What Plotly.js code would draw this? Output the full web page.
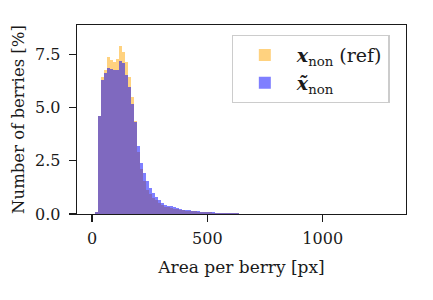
<!DOCTYPE html>
<html>
<head>
<meta charset="utf-8">
<script src="https://cdn.plot.ly/plotly-3.0.1.min.js"></script>
<style>html,body{margin:0;padding:0;background:#fff;}#chart{width:433px;height:300px;}</style>
</head>
<body>
<div id="chart"></div>
<script>
// Left edges of histogram bins (px), bin width 13
const binLeft = [13, 26, 39, 52, 65, 78, 91, 104, 117, 130, 143, 156, 169, 182, 195, 208, 221, 234, 247, 260,
  273, 286, 299, 312, 325, 338, 351, 364, 377, 390, 403, 416, 429, 442, 455, 468, 481, 494, 507, 520,
  533, 546, 559, 572, 585, 598, 611, 624, 637, 650, 663, 676, 689, 702, 715, 728, 741, 754, 767, 780,
  793, 806, 819, 832, 845, 858, 871, 884];
const binWidth = 13;
// Percent of berries, reference (x_non)
const refPct = [0.08, 4.58, 6.41, 6.77, 7.35, 7.24, 7.15, 7.29, 7.87, 7.62, 7.12, 6.41, 5.47, 4.38, 2.92, 2.13, 1.55, 1.12, 0.92, 0.76,
  0.64, 0.52, 0.42, 0.35, 0.31, 0.29, 0.25, 0.24, 0.20, 0.17, 0.16, 0.15, 0.13, 0.12, 0.11, 0.10, 0.09, 0.08, 0.08, 0.07,
  0.07, 0.06, 0.06, 0.05, 0.05, 0.05, 0.03, 0.03, 0.02, 0.02, 0.02, 0.02, 0.01, 0.01, 0.01, 0.01, 0.01, 0.01, 0.01, 0.01,
  0.01, 0.01, 0.01, 0.01, 0.02, 0.02, 0.01, 0.01];
// Percent of berries, generated (x~_non)
const genPct = [0.08, 4.58, 6.30, 6.63, 6.87, 6.80, 6.77, 6.74, 7.20, 7.09, 6.51, 5.94, 5.18, 4.33, 3.20, 2.41, 1.92, 1.53, 1.23, 0.99,
  0.80, 0.64, 0.52, 0.44, 0.39, 0.38, 0.31, 0.29, 0.23, 0.20, 0.19, 0.18, 0.15, 0.14, 0.12, 0.11, 0.11, 0.10, 0.09, 0.08,
  0.07, 0.07, 0.07, 0.06, 0.06, 0.06, 0.03, 0.03, 0.02, 0.02, 0.02, 0.02, 0.01, 0.01, 0.01, 0.01, 0.01, 0.01, 0.01, 0.01,
  0.01, 0.01, 0.01, 0.01, 0.02, 0.02, 0.01, 0.01];
const seriesNames = ['<b><i>x</i></b><sub>non</sub> (ref)', '<b><i>x̃</i></b><sub>non</sub>'];
const xTicks = [0, 500, 1000];
const yTicks = [0, 2.5, 5, 7.5];

const FONT = 'DejaVu Serif, Liberation Serif, serif';
const traces = [
  {type: 'bar', x: binLeft, y: refPct, width: binWidth, offset: 0, name: seriesNames[0],
   marker: {color: 'rgba(255,165,0,0.5)', line: {width: 0}}},
  {type: 'bar', x: binLeft, y: genPct, width: binWidth, offset: 0, name: seriesNames[1],
   marker: {color: 'rgba(0,0,255,0.5)', line: {width: 0}}}
];
const layout = {
  width: 433, height: 300,
  margin: {l: 77, r: 27, t: 25, b: 86, pad: 0},
  paper_bgcolor: '#fff', plot_bgcolor: '#fff',
  barmode: 'overlay', bargap: 0,
  font: {family: FONT, size: 16, color: '#1a1a1a'},
  xaxis: {range: [-65, 1361], tickvals: xTicks, ticktext: xTicks.map(String),
    ticks: 'outside', ticklen: 7, tickwidth: 1.3, tickcolor: '#1a1a1a', ticklabelstandoff: 2,
    showline: true, linecolor: '#1a1a1a', linewidth: 1.3, mirror: true, showgrid: false, zeroline: false,
    tickfont: {family: FONT, size: 16},
    title: {text: 'Area per berry [px]', font: {family: FONT, size: 17}, standoff: 14}},
  yaxis: {range: [0, 8.87], tickvals: yTicks, ticktext: yTicks.map(v => v.toFixed(1)),
    ticks: 'outside', ticklen: 7, tickwidth: 1.3, tickcolor: '#1a1a1a', ticklabelstandoff: 5,
    showline: true, linecolor: '#1a1a1a', linewidth: 1.3, mirror: true, showgrid: false, zeroline: false,
    tickfont: {family: FONT, size: 16},
    title: {text: 'Number of berries [%]', font: {family: FONT, size: 16.5}, standoff: 6}},
  legend: {x: 0.47, y: 0.947, xanchor: 'left', yanchor: 'top',
    bgcolor: 'rgba(255,255,255,0.8)', bordercolor: '#cccccc', borderwidth: 1.2,
    font: {family: FONT, size: 19}, tracegroupgap: 6, itemwidth: 54},
  showlegend: true
};
Plotly.newPlot('chart', traces, layout, {displayModeBar: false, staticPlot: true});
</script>
</body>
</html>
